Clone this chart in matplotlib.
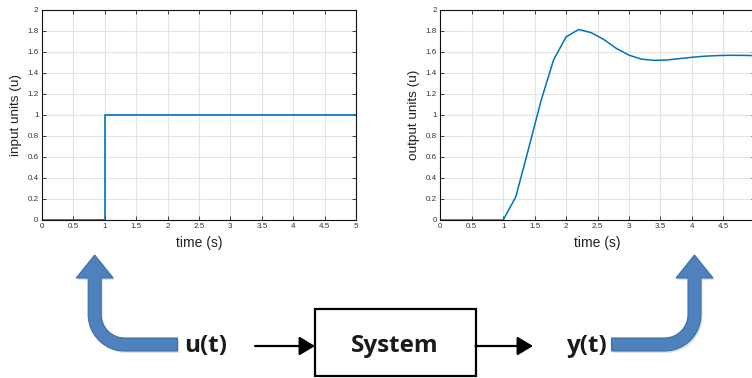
import numpy as np
import matplotlib
matplotlib.use("Agg")
import matplotlib.pyplot as plt
from matplotlib.path import Path
from matplotlib.patches import PathPatch, Rectangle, FancyArrowPatch

plt.rcParams['font.family'] = ['Liberation Sans', 'DejaVu Sans']

# ---- data ----
t_in = [0, 1, 1, 5]
u_in = [0, 0, 1, 1]
t_out = [0, 1.0, 1.2, 1.4, 1.6, 1.8, 2.0, 2.2, 2.4, 2.6, 2.8, 3.0, 3.2, 3.4,
         3.6, 3.8, 4.0, 4.2, 4.4, 4.6, 4.8, 5.0]
y_out = [0, 0.0, 0.22, 0.67, 1.13, 1.52, 1.74, 1.81, 1.78, 1.715, 1.63, 1.566,
         1.528, 1.517, 1.52, 1.533, 1.546, 1.556, 1.562, 1.565, 1.564, 1.562]
x_ticks = [0, 0.5, 1, 1.5, 2, 2.5, 3, 3.5, 4, 4.5, 5]
x_ticklabels = ['0', '0.5', '1', '1.5', '2', '2.5', '3', '3.5', '4', '4.5', '5']
y_ticks = [0, 0.2, 0.4, 0.6, 0.8, 1, 1.2, 1.4, 1.6, 1.8, 2]
y_ticklabels = ['0', '0.2', '0.4', '0.6', '0.8', '1', '1.2', '1.4', '1.6', '1.8', '2']
left_ylabel = 'input units (u)'
right_ylabel = 'output units (u)'
x_label = 'time (s)'

W, H = 752, 378
fig = plt.figure(figsize=(W / 100, H / 100), dpi=100)

line_color = '#0072BD'


def style_axes(ax, ylabel, xt, xtl):
    ax.set_xlim(0, 5)
    ax.set_ylim(0, 2)
    ax.set_xticks(xt)
    ax.set_xticklabels(xtl)
    ax.set_yticks(y_ticks)
    ax.set_yticklabels(y_ticklabels)
    ax.tick_params(direction='in', length=3, width=0.6, top=True, right=True,
                   labelsize=5.8, labelcolor='#333333', pad=2.5, color='#222222')
    ax.grid(True, color='#e3e3e3', linewidth=0.8)
    ax.set_axisbelow(True)
    for s in ax.spines.values():
        s.set_linewidth(0.8)
        s.set_color('#111111')
    ax.set_xlabel(x_label, fontsize=10, labelpad=4, color='#222222')
    ax.set_ylabel(ylabel, fontsize=9.7, labelpad=4, color='#222222')


axL = fig.add_axes([42 / W, 1 - 220 / H, 314 / W, 210.5 / H])
axL.plot(t_in, u_in, color=line_color, linewidth=1.2)
style_axes(axL, left_ylabel, x_ticks, x_ticklabels)

axR = fig.add_axes([440.3 / W, 1 - 220 / H, 314.5 / W, 210.5 / H])
axR.plot(t_out, y_out, color=line_color, linewidth=1.1)
# the right panel is cut by the picture edge, so its last tick label is not shown
style_axes(axR, right_ylabel, x_ticks[:-1], x_ticklabels[:-1])

# ---- diagram overlay (pixel coordinates) ----
ov = fig.add_axes([0, 0, 1, 1], zorder=-1)
ov.set_xlim(0, W)
ov.set_ylim(H, 0)
ov.axis('off')
ov.patch.set_alpha(0)


def bent_arrow(xv, yh, xend, R=30, w=6.5, head_base=278, head_half=18.5, tip=255):
    """xv: vertical centerline x, yh: horizontal centerline y, xend: tail end x."""
    sgn = 1 if xend > xv else -1
    cx, cy = xv + sgn * R, yh - R
    pts = []
    xo = xv - sgn * w
    pts.append((xo, head_base))
    pts.append((xo, cy))
    ro = R + w
    for a in np.linspace(0, np.pi / 2, 20):
        pts.append((cx - sgn * ro * np.cos(a), cy + ro * np.sin(a)))
    pts.append((xend, yh + w))
    pts.append((xend, yh - w))
    ri = R - w
    for a in np.linspace(np.pi / 2, 0, 20):
        pts.append((cx - sgn * ri * np.cos(a), cy + ri * np.sin(a)))
    xi = xv + sgn * w
    pts.append((xi, head_base))
    pts.append((xv + sgn * head_half, head_base))
    pts.append((xv, tip))
    pts.append((xv - sgn * head_half, head_base))
    pts.append((xo, head_base))
    path = Path(pts, closed=True)
    sh = Path([(x + 1.5, y + 2) for x, y in pts], closed=True)
    ov.add_patch(PathPatch(sh, facecolor='#b9c6d6', edgecolor='none', alpha=0.5, zorder=1))
    ov.add_patch(PathPatch(path, facecolor='#4f81bd', edgecolor='#3d6ea8', linewidth=0.8, zorder=2))


bent_arrow(94.7, 344.5, 177.5)
bent_arrow(694.5, 344.5, 611.5)

# System box
ov.add_patch(Rectangle((314.5, 308.5), 161, 67.5, facecolor='white', edgecolor='black',
                       linewidth=1.6, zorder=3))
ov.text(395, 346, 'System', fontsize=17.5, fontweight='bold', ha='center', va='center',
        family=['Open Sans', 'DejaVu Sans'], color='#1a1a1a', zorder=4)
ov.text(206, 346, 'u(t)', fontsize=17.5, fontweight='bold', ha='center', va='center',
        family=['Open Sans', 'DejaVu Sans'], color='#1a1a1a', zorder=4)
ov.text(587, 346, 'y(t)', fontsize=17.5, fontweight='bold', ha='center', va='center',
        family=['Open Sans', 'DejaVu Sans'], color='#1a1a1a', zorder=4)

for x0, x1 in [(255, 315), (475.5, 533)]:
    ov.add_patch(FancyArrowPatch((x0, 346), (x1, 346), arrowstyle='-|>,head_length=5,head_width=3',
                                 mutation_scale=1.9, color='black', linewidth=1.6,
                                 shrinkA=0, shrinkB=0, zorder=4))

fig.savefig('out.png', dpi=100)
